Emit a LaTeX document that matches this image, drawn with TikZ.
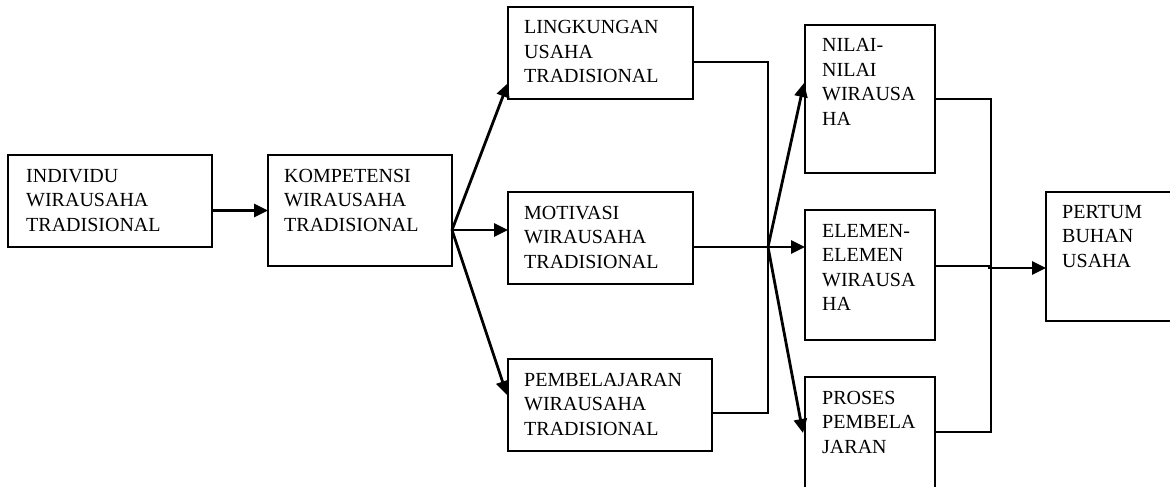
\documentclass[tikz,border=0pt]{standalone}
\usepackage{fontspec}
\setmainfont{Liberation Serif}
\usetikzlibrary{arrows.meta}
\begin{document}
\begin{tikzpicture}[x=1pt,y=-1pt,
  box/.style={draw,line width=1.6pt,anchor=north west,inner sep=0,outer sep=0},
  txt/.style={anchor=base west,inner sep=0,font=\fontsize{20}{24.5}\selectfont},
  thin/.style={line width=1.5pt},
  thick/.style={line width=2.8pt,-{Triangle[length=14pt,width=13pt]}}]
\useasboundingbox (0,0) rectangle (1170,487);
% boxes
\node[box,minimum width=204pt,minimum height=92pt]  (ind) at (8,155) {};
\node[box,minimum width=184pt,minimum height=111pt] (kom) at (268,155) {};
\node[box,minimum width=185pt,minimum height=92pt]  (lin) at (508,7) {};
\node[box,minimum width=185pt,minimum height=92pt]  (mot) at (508,192) {};
\node[box,minimum width=204pt,minimum height=92pt]  (pem) at (508,359) {};
\node[box,minimum width=130pt,minimum height=148pt] (nil) at (805,25) {};
\node[box,minimum width=130pt,minimum height=130pt] (ele) at (805,210) {};
\node[box,minimum width=130pt,minimum height=140pt] (pro) at (805,377) {};
\node[box,minimum width=134pt,minimum height=129pt] (per) at (1046,192) {};
% texts
\node[txt] (indt) at (26,182) {\parbox[t]{190pt}{INDIVIDU\\WIRAUSAHA\\TRADISIONAL}};
\node[txt] (komt) at (284,182) {\parbox[t]{170pt}{KOMPETENSI\\WIRAUSAHA\\TRADISIONAL}};
\node[txt] (lint) at (524,34) {\parbox[t]{170pt}{LINGKUNGAN\\USAHA\\TRADISIONAL}};
\node[txt] (mott) at (524,219) {\parbox[t]{170pt}{MOTIVASI\\WIRAUSAHA\\TRADISIONAL}};
\node[txt] (pemt) at (524,386) {\parbox[t]{190pt}{PEMBELAJARAN\\WIRAUSAHA\\TRADISIONAL}};
\node[txt] (nilt) at (822,52) {\parbox[t]{120pt}{NILAI-\\NILAI\\WIRAUSA\\HA}};
\node[txt] (elet) at (822,237) {\parbox[t]{120pt}{ELEMEN-\\ELEMEN\\WIRAUSA\\HA}};
\node[txt] (prot) at (822,404) {\parbox[t]{120pt}{PROSES\\PEMBELA\\JARAN}};
\node[txt] (pert) at (1062,218) {\parbox[t]{120pt}{PERTUM\\BUHAN\\USAHA}};
% coordinates
\coordinate (f0) at (452,230);
\coordinate (t1) at (508,83);
\coordinate (t2) at (508,230);
\coordinate (t3) at (507,395);
\coordinate (l1) at (693,62);
\coordinate (c1) at (768,62);
\coordinate (l2) at (693,247);
\coordinate (j) at (768,247);
\coordinate (l3) at (712,413);
\coordinate (c3) at (768,413);
\coordinate (u1) at (804,83);
\coordinate (u2) at (805,247);
\coordinate (u3) at (803,433);
\coordinate (r1) at (935,99);
\coordinate (d1) at (991,99);
\coordinate (r2) at (935,266);
\coordinate (d2) at (991,266);
\coordinate (r3) at (935,432);
\coordinate (d3) at (991,432);
\coordinate (k) at (988,268);
\coordinate (p) at (1046,268);
% connectors
\draw[thick] (ind.east |- kom.west) -- (kom.west);
\draw[thick] (f0) -- (t1);
\draw[thick] (f0) -- (t2);
\draw[thick] (f0) -- (t3);
\draw[thin] (l1) -- (c1) -- (c3) -- (l3);
\draw[thin] (l2) -- (j);
\draw[thick] (j) -- (u1);
\draw[thick] (j) -- (u2);
\draw[thick] (j) -- (u3);
\draw[thin] (r1) -- (d1) -- (d3) -- (r3);
\draw[thin] (r2) -- (d2);
\draw[thick] (k) -- (p);
\end{tikzpicture}
\end{document}
